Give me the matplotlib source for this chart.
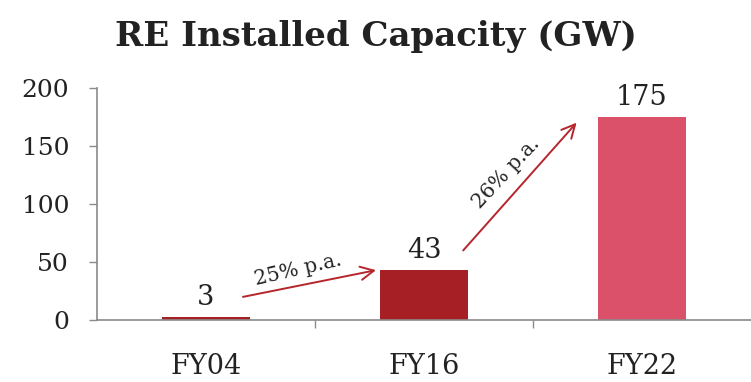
import matplotlib
matplotlib.use("Agg")
import matplotlib.pyplot as plt

# RE installed capacity, GW
years = ["FY04", "FY16", "FY22"]
capacity = [3, 43, 175]
bar_colors = ["#A51F24", "#A51F24", "#DA5169"]

# growth arrows: (label, start, end)
growth_labels = ["25% p.a.", "26% p.a."]
arrow_starts = [(0.17, 20), (1.18, 60)]
arrow_ends = [(0.78, 43), (1.70, 170)]

plt.rcParams["font.family"] = "DejaVu Serif"
text_color = "#222222"
axis_color = "#8a8a8a"
arrow_color = "#B5262B"

fig = plt.figure(figsize=(7.51, 3.82), dpi=100)
ax = fig.add_axes([0.129, 0.162, 0.871, 0.608])

x = range(len(years))
ax.bar(x, capacity, width=0.4, color=bar_colors)

for xi, v in zip(x, capacity):
    ax.text(xi, v + 5, str(v), ha="center", va="bottom", fontsize=19.5, color=text_color)

for lab, s, e, ang, off in zip(growth_labels, arrow_starts, arrow_ends, [13, 47], [(-0.05, 12), (-0.06, 12)]):
    ax.annotate("", xy=e, xytext=s,
                arrowprops=dict(arrowstyle="->", color=arrow_color, lw=1.4,
                                mutation_scale=24, shrinkA=0, shrinkB=0))
    mx = (s[0] + e[0]) / 2 + off[0]
    my = (s[1] + e[1]) / 2 + off[1]
    ax.text(mx, my, lab, rotation=ang, ha="center", va="center",
            fontsize=14.5, color=text_color, rotation_mode="anchor")

ax.set_xlim(-0.5, 2.5)
ax.set_ylim(0, 200)
ax.set_yticks([0, 50, 100, 150, 200])
ax.set_xticks(list(x))
ax.set_xticklabels(years)
ax.set_xticks([0.5, 1.5], minor=True)

ax.tick_params(axis="y", direction="out", length=6, width=1, color=axis_color,
               labelsize=18, labelcolor=text_color, pad=14)
ax.tick_params(axis="x", which="major", length=0, labelsize=19.5,
               labelcolor=text_color, pad=24)
ax.tick_params(axis="x", which="minor", direction="out", length=6, width=1,
               color=axis_color)

for side in ["top", "right"]:
    ax.spines[side].set_visible(False)
for side in ["left", "bottom"]:
    ax.spines[side].set_color(axis_color)
    ax.spines[side].set_linewidth(1.2)

fig.text(0.5, 0.905, "RE Installed Capacity (GW)", ha="center", va="center",
         fontsize=24.5, fontweight="bold", color=text_color)

fig.savefig("out.png", dpi=100)
